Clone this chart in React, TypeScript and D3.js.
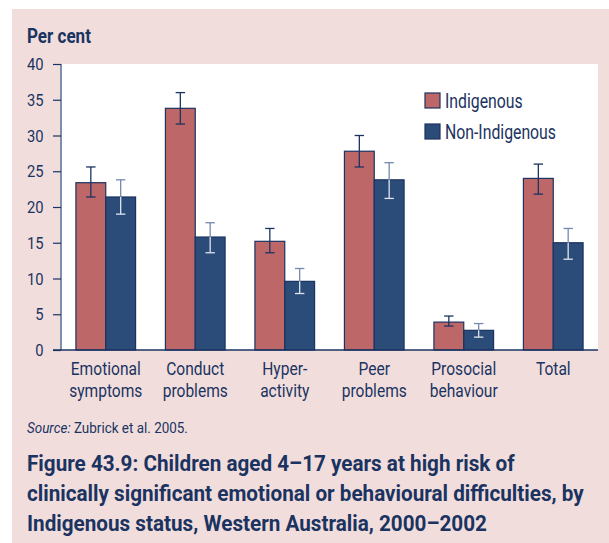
import { useEffect, useRef } from 'react'
import * as d3 from 'd3'

const categories = [
  ['Emotional', 'symptoms'],
  ['Conduct', 'problems'],
  ['Hyper-', 'activity'],
  ['Peer', 'problems'],
  ['Prosocial', 'behaviour'],
  ['Total'],
]
const seriesNames = ['Indigenous', 'Non-Indigenous']
const indigenous = [23.4, 33.8, 15.2, 27.8, 3.9, 24.0]
const indigenousLow = [21.4, 31.6, 13.6, 25.6, 3.35, 21.8]
const indigenousHigh = [25.6, 36.0, 17.0, 30.0, 4.75, 26.0]
const nonIndigenous = [21.4, 15.8, 9.6, 23.8, 2.75, 15.0]
const nonIndigenousLow = [19.0, 13.6, 7.9, 21.2, 1.8, 12.7]
const nonIndigenousHigh = [23.8, 17.8, 11.4, 26.2, 3.7, 17.0]
const yTicks = [0, 5, 10, 15, 20, 25, 30, 35, 40]
const titleLines = [
  'Figure 43.9: Children aged 4–17 years at high risk of',
  'clinically significant emotional or behavioural difficulties, by',
  'Indigenous status, Western Australia, 2000–2002',
]

const W = 609
const H = 543
const NAVY = '#1b3361'
const RED = '#bd6769'
const BLUE = '#2b4b79'
const PINK = '#f1dedc'
const FONT = 'Roboto, sans-serif'

type Sel = d3.Selection<SVGGElement, unknown, null, undefined>

// text drawn inside a group so it can be squeezed horizontally (the original face is condensed)
function label(parent: Sel | d3.Selection<SVGSVGElement, unknown, null, undefined>, x: number, y: number, size: number, bold = false, anchor = 'start') {
  const g = (parent as any).append('g').attr('data-x', x).attr('data-y', y).attr('transform', `translate(${x},${y})`)
  const t = g.append('text')
    .attr('fill', NAVY)
    .attr('font-size', `${size}px`)
    .attr('font-family', FONT)
    .attr('font-weight', bold ? 'bold' : 'normal')
    .attr('text-anchor', anchor)
  return t as d3.Selection<SVGTextElement, unknown, null, undefined>
}

function squeeze(texts: d3.Selection<SVGTextElement, unknown, null, undefined>[], ref: d3.Selection<SVGTextElement, unknown, null, undefined>, target: number) {
  const w = (ref.node() as SVGTextElement).getComputedTextLength() || target
  const sx = target / w
  texts.forEach((t) => {
    const g = d3.select((t.node() as SVGTextElement).parentNode as SVGGElement)
    g.attr('transform', `translate(${g.attr('data-x')},${g.attr('data-y')}) scale(${sx},1)`)
  })
}

export default function App() {
  const ref = useRef<SVGSVGElement>(null)

  useEffect(() => {
    if (!ref.current) return
    const svg = d3.select(ref.current)
    svg.selectAll('*').remove()

    const plot = { left: 61, right: 598, top: 64, bottom: 350 }

    svg.append('rect').attr('x', 12).attr('y', 9).attr('width', W - 12).attr('height', H - 9).attr('fill', PINK)
    svg.append('rect')
      .attr('x', plot.left).attr('y', plot.top)
      .attr('width', plot.right - plot.left).attr('height', plot.bottom - plot.top)
      .attr('fill', '#ffffff')

    const x0 = d3.scaleBand<number>()
      .domain(d3.range(categories.length))
      .range([plot.left, plot.right])
      .paddingInner(1 / 3)
      .paddingOuter(1 / 6)
    const x1 = d3.scaleBand<number>().domain([0, 1]).range([0, x0.bandwidth()])
    const y = d3.scaleLinear().domain([0, 40]).range([plot.bottom, plot.top])

    const series = [
      { name: seriesNames[0], values: indigenous, low: indigenousLow, high: indigenousHigh, fill: RED },
      { name: seriesNames[1], values: nonIndigenous, low: nonIndigenousLow, high: nonIndigenousHigh, fill: BLUE },
    ]

    // bars
    series.forEach((s, si) => {
      svg.append('g')
        .selectAll('rect')
        .data(s.values)
        .join('rect')
        .attr('x', (_, i) => x0(i)! + x1(si)!)
        .attr('y', (d) => y(d))
        .attr('width', x1.bandwidth())
        .attr('height', (d) => y(0) - y(d))
        .attr('fill', s.fill)
        .attr('stroke', NAVY)
        .attr('stroke-width', 1.2)
    })

    // error bars
    series.forEach((s, si) => {
      const g = svg.append('g')
      s.values.forEach((v, i) => {
        const cx = x0(i)! + x1(si)! + x1.bandwidth() / 2
        const top = y(s.high[i])
        const bot = y(s.low[i])
        const outer = si === 0 ? NAVY : '#7489ab'
        const inner = si === 0 ? NAVY : '#dfe5ef'
        g.append('line').attr('x1', cx).attr('x2', cx).attr('y1', top).attr('y2', y(v))
          .attr('stroke', outer).attr('stroke-width', 1.3)
        g.append('line').attr('x1', cx).attr('x2', cx).attr('y1', y(v)).attr('y2', bot)
          .attr('stroke', inner).attr('stroke-width', 1.3)
        g.append('line').attr('x1', cx - 4.7).attr('x2', cx + 4.7).attr('y1', top).attr('y2', top)
          .attr('stroke', outer).attr('stroke-width', 1.3)
        g.append('line').attr('x1', cx - 4.7).attr('x2', cx + 4.7).attr('y1', bot).attr('y2', bot)
          .attr('stroke', inner).attr('stroke-width', 1.3)
      })
    })

    // y axis
    svg.append('g')
      .attr('transform', `translate(${plot.left},0)`)
      .call(d3.axisLeft(y).tickValues(yTicks).tickSize(8).tickFormat(() => ''))
      .call((s) => {
        s.select('.domain').attr('stroke', '#7d8fae').attr('stroke-width', 2).attr('d', `M0,${plot.top}V${plot.bottom}`)
        s.selectAll('.tick line').attr('stroke', NAVY).attr('stroke-width', 1.2)
      })
    const tickTexts = yTicks.map((t) => label(svg, 43.5, y(t) + 6, 17, false, 'end').text(String(t)))
    squeeze(tickTexts, tickTexts[tickTexts.length - 1], 16.6)

    // x axis line
    svg.append('line')
      .attr('x1', plot.left - 8).attr('x2', plot.right)
      .attr('y1', plot.bottom).attr('y2', plot.bottom)
      .attr('stroke', NAVY).attr('stroke-width', 1.5)

    // category labels
    const catTexts = categories.map((lines, i) => {
      const cx = x0(i)! + x0.bandwidth() / 2
      const t = label(svg, cx, 375, 18, false, 'middle')
      lines.forEach((l, j) => {
        t.append('tspan').attr('x', 0).attr('dy', j === 0 ? 0 : 22).text(l)
      })
      return t
    })
    const probe = label(svg, 0, -50, 18).text(categories[0][0])
    squeeze(catTexts, probe, 70)
    probe.remove()

    // legend
    const legTexts = series.map((s, si) => {
      const ly = 93 + si * 31
      svg.append('rect').attr('x', 425).attr('y', ly).attr('width', 15).attr('height', 15)
        .attr('fill', s.fill).attr('stroke', NAVY).attr('stroke-width', 1.2)
      return label(svg, 445, ly + 15, 21).text(s.name)
    })
    squeeze(legTexts, legTexts[1], 111)

    // y unit label
    const unit = label(svg, 27, 43, 21, true).text('Per cent')
    squeeze([unit], unit, 64)

    // source
    const src = label(svg, 27, 433, 15)
    src.append('tspan').attr('font-style', 'italic').text('Source:')
    src.append('tspan').text(' Zubrick et al. 2005.')
    squeeze([src], src, 161)

    // title
    const titles = titleLines.map((l, i) => label(svg, 27, 471 + i * 30, 22, true).text(l))
    squeeze(titles, titles[1], 557)
  }, [])

  return (
    <svg
      ref={ref}
      width={W}
      height={H}
      style={{ position: 'absolute', left: 0, top: 0, display: 'block' }}
    />
  )
}
